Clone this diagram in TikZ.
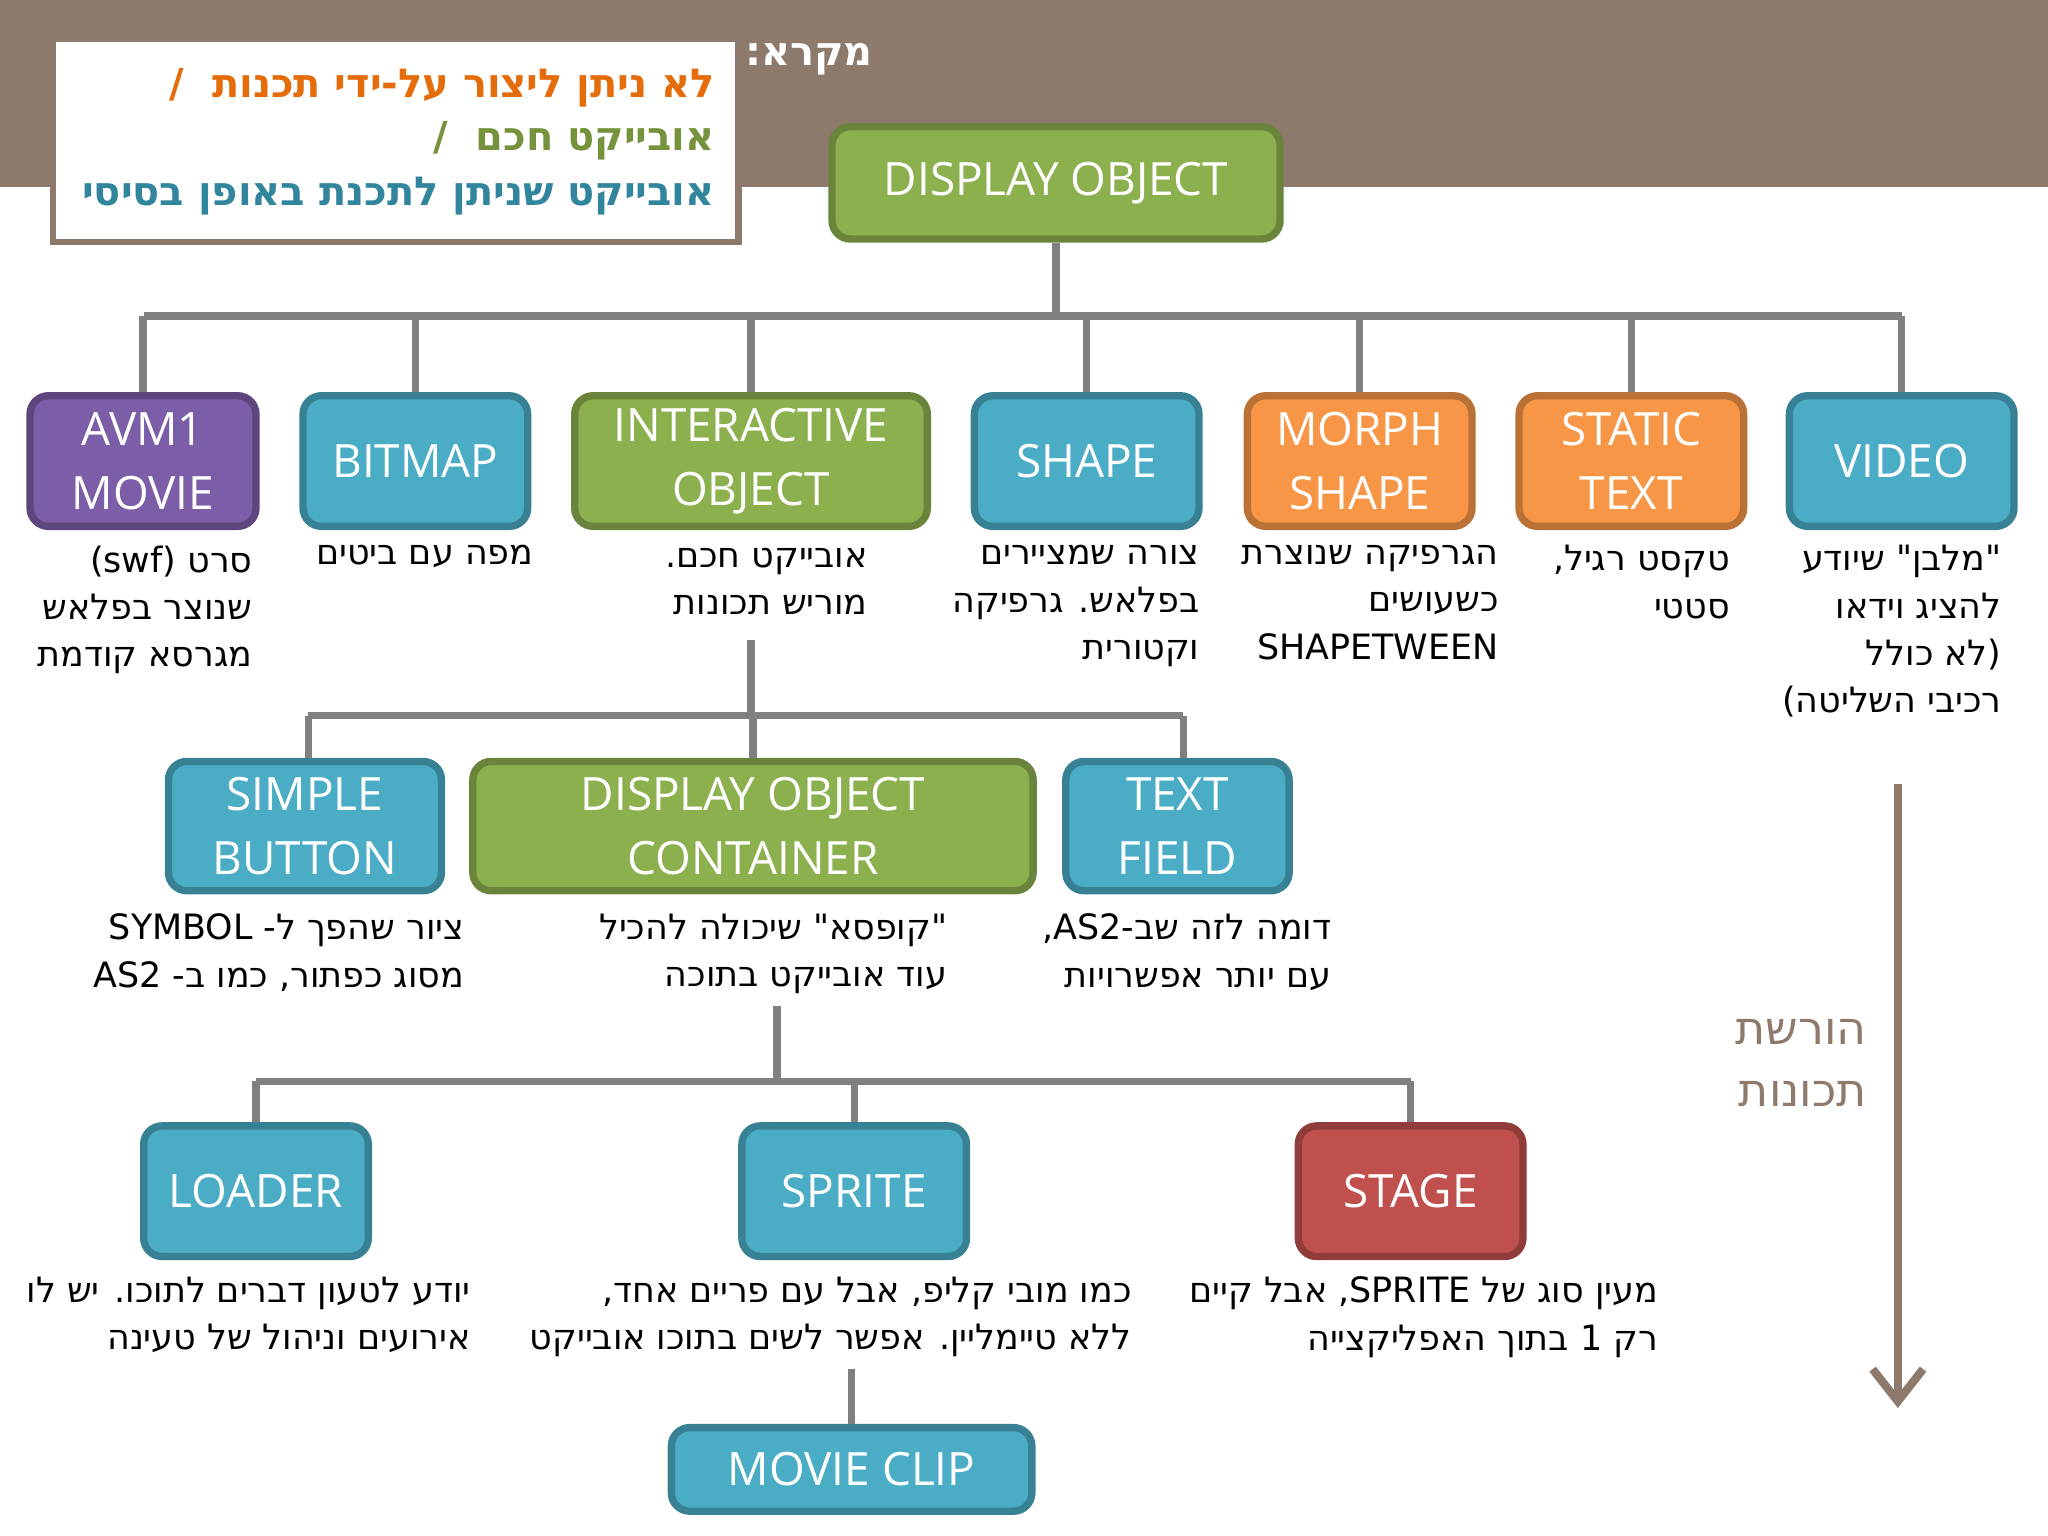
\documentclass[tikz,border=0pt]{standalone}
\usepackage{fontspec}
\setmainfont{Open Sans}
\newfontfamily\hebfont{DejaVu Sans}
\TeXXeTstate=1
\newcommand{\heb}[1]{\beginR #1\endR}
\newcommand{\hq}{\beginL"\endL}
\usetikzlibrary{arrows.meta}
\definecolor{bandbrown}{HTML}{8E7A6C}
\definecolor{boxblue}{HTML}{4BACC6}
\definecolor{boxgreen}{HTML}{8DB04F}
\definecolor{boxorange}{HTML}{F79646}
\definecolor{boxpurple}{HTML}{7B5EA7}
\definecolor{boxred}{HTML}{C0504D}
\definecolor{linegray}{HTML}{808080}
\definecolor{legorange}{HTML}{E46C0A}
\definecolor{leggreen}{HTML}{76923C}
\definecolor{legblue}{HTML}{31859C}
\tikzset{
  box/.style={rectangle,rounded corners=4pt,line width=1.6pt,draw=#1!75!black,fill=#1,
    text=white,align=center,font=\fontsize{10}{14}\selectfont,inner sep=0pt},
  desc/.style={anchor=north east,align=right,font=\hebfont\fontsize{7.6}{10.3}\selectfont,inner sep=0pt},
  legtext/.style={anchor=east,inner sep=0pt,font=\hebfont\bfseries\fontsize{8.7}{11}\selectfont},
  link/.style={draw=linegray,line width=1.6pt}
}
\begin{document}
\begin{tikzpicture}
  \useasboundingbox (0,0) rectangle (15.68,-11.76);
  \fill[bandbrown] (0,0) rectangle (15.68,-1.43);
  % legend
  \node[draw=bandbrown,line width=1.4pt,fill=white,minimum width=5.25cm,minimum height=1.56cm,anchor=north west] (legend) at (0.38,-0.27) {};
  \node[legtext,text=legorange] (leg1) at (5.48,-0.67) {\heb{לא ניתן ליצור על-ידי תכנות \ /}};
  \node[legtext,text=leggreen] (leg2) at (5.48,-1.08) {\heb{אובייקט חכם \ /}};
  \node[legtext,text=legblue] (leg3) at (5.48,-1.50) {\heb{אובייקט שניתן לתכנת באופן בסיסי}};
  \node[legtext,anchor=west,text=white] (legtitle) at (5.70,-0.45) {\heb{מקרא:}};
  % boxes
  \node[box=boxgreen,minimum width=3.43cm,minimum height=0.86cm] (disp) at (8.085,-1.40) {DISPLAY OBJECT};
  \node[box=boxpurple,minimum width=1.73cm,minimum height=1.0cm] (avm) at (1.095,-3.53) {AVM1\\MOVIE};
  \node[box=boxblue,minimum width=1.72cm,minimum height=1.0cm] (bitmap) at (3.18,-3.53) {BITMAP};
  \node[box=boxgreen,minimum width=2.70cm,minimum height=1.0cm] (inter) at (5.75,-3.53) {INTERACTIVE\\OBJECT};
  \node[box=boxblue,minimum width=1.72cm,minimum height=1.0cm] (shape) at (8.32,-3.53) {SHAPE};
  \node[box=boxorange,minimum width=1.72cm,minimum height=1.0cm] (morph) at (10.41,-3.53) {MORPH\\SHAPE};
  \node[box=boxorange,minimum width=1.72cm,minimum height=1.0cm] (static) at (12.49,-3.53) {STATIC\\TEXT};
  \node[box=boxblue,minimum width=1.72cm,minimum height=1.0cm] (video) at (14.56,-3.53) {VIDEO};
  \node[box=boxblue,minimum width=2.09cm,minimum height=0.99cm] (button) at (2.335,-6.325) {SIMPLE\\BUTTON};
  \node[box=boxgreen,minimum width=4.29cm,minimum height=0.99cm] (container) at (5.765,-6.325) {DISPLAY OBJECT\\CONTAINER};
  \node[box=boxblue,minimum width=1.71cm,minimum height=0.99cm] (field) at (9.015,-6.325) {TEXT\\FIELD};
  \node[box=boxblue,minimum width=1.72cm,minimum height=1.0cm] (loader) at (1.96,-9.12) {LOADER};
  \node[box=boxblue,minimum width=1.72cm,minimum height=1.0cm] (sprite) at (6.54,-9.12) {SPRITE};
  \node[box=boxred,minimum width=1.72cm,minimum height=1.0cm] (stage) at (10.80,-9.12) {STAGE};
  \node[box=boxblue,minimum width=2.76cm,minimum height=0.64cm] (clip) at (6.52,-11.25) {MOVIE CLIP};
  % descriptions
  \node[desc] (davm) at (1.94,-4.17) {\heb{סרט \beginL(swf)\endL}\\\heb{שנוצר בפלאש}\\\heb{מגרסא קודמת}};
  \node[desc] (dbitmap) at (4.09,-4.17) {\heb{מפה עם ביטים}};
  \node[desc] (dinter) at (6.65,-4.19) {\heb{אובייקט חכם.}\\\heb{מוריש תכונות}};
  \node[desc] (dshape) at (9.19,-4.17) {\heb{צורה שמציירים}\\\heb{בפלאש. גרפיקה}\\\heb{וקטורית}};
  \node[desc] (dmorph) at (11.48,-4.17) {\heb{הגרפיקה שנוצרת}\\\heb{כשעושים}\\\beginL SHAPETWEEN\endL};
  \node[desc] (dstatic) at (13.25,-4.17) {\heb{טקסט רגיל,}\\\heb{סטטי}};
  \node[desc] (dvideo) at (15.33,-4.17) {\heb{\hq מלבן\hq\ שיודע}\\\heb{להציג וידאו}\\\heb{(לא כולל}\\\heb{רכיבי השליטה)}};
  \node[desc] (dbutton) at (3.56,-6.99) {\heb{ציור שהפך ל- \beginL SYMBOL\endL}\\\heb{מסוג כפתור, כמו ב- \beginL AS2\endL}};
  \node[desc] (dcontainer) at (7.26,-6.99) {\heb{\hq קופסא\hq\ שיכולה להכיל}\\\heb{עוד אובייקט בתוכה}};
  \node[desc] (dfield) at (10.20,-6.99) {\heb{דומה לזה שב-\beginL AS2\endL,}\\\heb{עם יותר אפשרויות}};
  \node[desc] (dloader) at (3.61,-9.77) {\heb{יודע לטעון דברים לתוכו. יש לו}\\\heb{אירועים וניהול של טעינה}};
  \node[desc] (dsprite) at (8.67,-9.77) {\heb{כמו מובי קליפ, אבל עם פריים אחד,}\\\heb{ללא טיימליין. אפשר לשים בתוכו אובייקט}};
  \node[desc] (dstage) at (12.70,-9.77) {\heb{מעין סוג של \beginL SPRITE\endL, אבל קיים}\\\heb{רק 1 בתוך האפליקצייה}};
  % connectors
  \coordinate (bus1l) at (1.10,-2.42);
  \coordinate (bus1r) at (14.56,-2.42);
  \draw[link] (disp.south) -- (disp.south |- bus1l);
  \draw[link] (bus1l) -- (bus1r);
  \foreach \n in {avm,bitmap,inter,shape,morph,static,video}
    \draw[link] (\n.north |- bus1l) -- (\n.north);
  \coordinate (bus2l) at (2.36,-5.48);
  \coordinate (bus2r) at (9.06,-5.48);
  \draw[link] (5.75,-4.90) -- (inter.south |- bus2l);
  \draw[link] (bus2l) -- (bus2r);
  \draw[link] (bus2l) -- (bus2l |- button.north);
  \draw[link] (container.north |- bus2l) -- (container.north);
  \draw[link] (bus2r) -- (bus2r |- field.north);
  \coordinate (bus3l) at (1.96,-8.28);
  \coordinate (bus3r) at (10.80,-8.28);
  \draw[link] (5.95,-7.70) -- (5.95,-8.28);
  \draw[link] (bus3l) -- (bus3r);
  \foreach \n in {loader,sprite,stage}
    \draw[link] (\n.north |- bus3l) -- (\n.north);
  \draw[link] (6.52,-10.48) -- (clip.north);
  % inheritance arrow
  \coordinate (arrtop) at (14.53,-6.00);
  \coordinate (arrbot) at (14.53,-10.78);
  \draw[draw=bandbrown,line width=1.8pt,-{Straight Barb[length=7pt,width=11pt,line width=1.8pt]}] (arrtop) -- (arrbot);
  \node[anchor=north east,align=right,inner sep=0pt,text=bandbrown,font=\hebfont\fontsize{10}{13.5}\selectfont] (inherit) at (14.30,-7.80) {\heb{הורשת}\\\heb{תכונות}};
\end{tikzpicture}
\end{document}
